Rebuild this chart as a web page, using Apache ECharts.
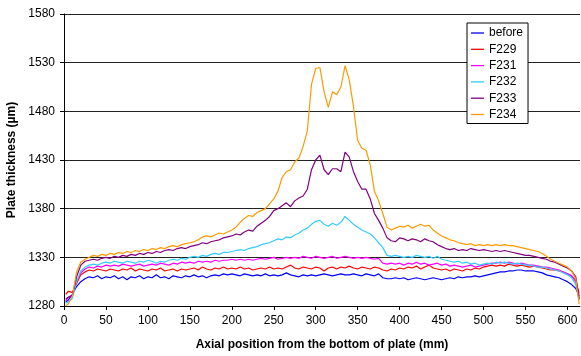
<!DOCTYPE html>
<html>
<head>
<meta charset="utf-8">
<script src="https://cdn.jsdelivr.net/npm/echarts@6/dist/echarts.min.js"></script>
<style>
  html, body { margin: 0; padding: 0; background: #fff; }
  #chart { width: 581px; height: 356px; }
</style>
</head>
<body>
<div id="chart"></div>
<script>
// Axial positions (mm) of the thickness readings
const positions = [2,5,10,15,20,25,30,35,40,45,50,55,60,65,70,75,80,85,90,95,
  100,105,110,115,120,125,130,135,140,145,150,155,160,165,170,175,180,185,190,195,
  200,205,210,215,220,225,230,235,240,245,250,255,260,265,270,275,280,285,290,295,
  300,305,310,315,320,325,330,335,340,345,350,355,360,365,370,375,380,385,390,395,
  400,405,410,415,420,425,430,435,440,445,450,455,460,465,470,475,480,485,490,495,
  500,505,510,515,520,525,530,535,540,545,550,555,560,565,570,575,580,585,590,595,
  600,605,610,614];

const before = [1284,1286,1292,1300,1305,1308,1310,1309,1311,1308,1310,1309,1311,1308,1310,1307,1310,1309,1311,1308,
  1310,1309,1312,1309,1310,1308,1311,1310,1309,1311,1310,1312,1310,1311,1309,1311,1312,1311,1313,1312,
  1313,1312,1311,1313,1312,1311,1312,1311,1313,1311,1312,1311,1312,1314,1312,1311,1310,1312,1311,1312,
  1311,1312,1313,1312,1311,1312,1313,1312,1312,1313,1312,1311,1313,1312,1311,1313,1309,1308,1308,1309,
  1308,1309,1307,1308,1309,1308,1307,1308,1309,1308,1307,1308,1309,1308,1310,1309,1310,1310,1311,1310,
  1311,1312,1313,1314,1315,1315,1316,1316,1317,1317,1316,1316,1316,1315,1314,1312,1311,1310,1309,1307,
  1305,1302,1298,1290];

const f229 = [1292,1295,1294,1303,1312,1315,1317,1316,1318,1317,1316,1318,1317,1316,1318,1317,1319,1316,1318,1317,
  1316,1318,1317,1319,1316,1317,1318,1316,1318,1317,1318,1319,1317,1320,1318,1317,1319,1318,1320,1318,
  1319,1318,1320,1318,1319,1317,1318,1319,1318,1320,1318,1319,1318,1320,1322,1319,1318,1320,1319,1318,
  1320,1319,1316,1319,1320,1318,1320,1319,1321,1319,1318,1320,1319,1318,1320,1319,1317,1316,1318,1317,
  1319,1318,1320,1319,1321,1318,1320,1322,1319,1318,1317,1318,1316,1318,1317,1316,1318,1317,1319,1318,
  1320,1321,1322,1321,1322,1321,1323,1322,1321,1322,1321,1320,1321,1320,1319,1318,1317,1317,1316,1315,
  1313,1311,1306,1293];

const f231 = [1285,1289,1291,1305,1314,1318,1320,1319,1321,1320,1322,1321,1322,1321,1323,1322,1321,1322,1323,1321,
  1322,1323,1322,1324,1323,1322,1324,1323,1325,1324,1325,1324,1326,1325,1326,1325,1327,1326,1327,1327,
  1328,1327,1328,1327,1328,1327,1328,1329,1328,1329,1330,1328,1329,1330,1329,1330,1329,1331,1330,1329,
  1331,1330,1329,1330,1331,1329,1330,1331,1330,1329,1330,1329,1330,1329,1328,1329,1324,1323,1324,1323,
  1324,1322,1324,1323,1325,1323,1324,1322,1323,1324,1322,1323,1321,1322,1321,1320,1321,1322,1320,1321,
  1322,1323,1324,1324,1325,1324,1325,1324,1323,1324,1323,1322,1322,1321,1320,1320,1319,1318,1317,1315,
  1313,1311,1305,1290];

const f232 = [1283,1284,1288,1305,1316,1320,1322,1323,1322,1324,1325,1324,1326,1325,1324,1326,1325,1324,1326,1325,
  1327,1326,1324,1326,1325,1327,1328,1327,1329,1328,1330,1331,1330,1332,1331,1333,1334,1333,1335,1335,
  1336,1337,1338,1337,1339,1340,1341,1343,1344,1345,1347,1349,1348,1351,1350,1353,1355,1358,1360,1364,
  1367,1368,1364,1362,1365,1363,1366,1372,1368,1364,1361,1358,1356,1354,1350,1345,1340,1332,1331,1332,
  1331,1330,1331,1330,1332,1331,1330,1331,1329,1331,1328,1327,1326,1325,1326,1324,1325,1323,1324,1322,
  1323,1324,1323,1325,1324,1325,1324,1323,1324,1323,1322,1322,1321,1320,1320,1319,1318,1317,1316,1314,
  1312,1309,1302,1286];

const f233 = [1287,1289,1291,1310,1322,1326,1327,1328,1327,1329,1330,1329,1331,1330,1332,1331,1333,1332,1334,1333,
  1335,1334,1336,1335,1337,1338,1337,1339,1340,1339,1341,1342,1343,1345,1344,1346,1347,1348,1350,1351,
  1352,1354,1353,1356,1358,1357,1362,1365,1368,1372,1378,1380,1383,1386,1382,1388,1391,1393,1400,1420,
  1430,1435,1420,1415,1421,1421,1418,1438,1433,1418,1408,1400,1400,1390,1375,1368,1360,1350,1347,1346,
  1350,1349,1347,1349,1348,1346,1349,1347,1346,1343,1341,1339,1338,1339,1337,1338,1337,1339,1338,1337,
  1338,1337,1336,1337,1336,1337,1336,1335,1334,1333,1332,1332,1331,1330,1329,1328,1326,1325,1323,1321,
  1319,1316,1310,1287];

const f234 = [1280,1282,1290,1315,1325,1328,1330,1332,1331,1333,1332,1334,1333,1335,1334,1336,1335,1337,1336,1338,
  1337,1339,1338,1340,1339,1341,1342,1341,1343,1344,1345,1346,1348,1351,1352,1351,1353,1355,1354,1356,
  1358,1361,1366,1370,1373,1372,1376,1378,1380,1385,1390,1398,1412,1418,1420,1428,1432,1444,1460,1508,
  1524,1525,1500,1484,1500,1497,1505,1527,1512,1485,1450,1442,1440,1425,1398,1388,1375,1361,1358,1360,
  1362,1361,1363,1360,1362,1364,1362,1363,1358,1355,1352,1350,1348,1347,1345,1344,1343,1344,1342,1343,
  1342,1343,1342,1343,1342,1343,1342,1342,1341,1340,1339,1338,1337,1336,1334,1331,1328,1326,1324,1322,
  1320,1316,1308,1282];

const seriesNames = ['before', 'F229', 'F231', 'F232', 'F233', 'F234'];
const seriesValues = [before, f229, f231, f232, f233, f234];
const seriesColors = ['#0000ff', '#ff0000', '#ff00ff', '#33ccff', '#800080', '#ff9900'];

const chart = echarts.init(document.getElementById('chart'), null, { renderer: 'canvas' });

const font = 'Liberation Sans, Arial, sans-serif';

chart.setOption({
  animation: false,
  backgroundColor: '#ffffff',
  grid: { left: 64, right: 1, top: 14, bottom: 50, containLabel: false, outerBoundsMode: 'none' },
  legend: {
    orient: 'vertical',
    left: 467,
    top: 23,
    padding: [4, 5, 3, 4],
    itemWidth: 13,
    itemHeight: 12,
    itemGap: 4.3,
    icon: 'path://M0,0H13V1.3H0Z',
    backgroundColor: '#ffffff',
    borderColor: '#000000',
    borderWidth: 1,
    borderRadius: 0,
    textStyle: { fontFamily: font, fontSize: 12, color: '#000' },
    data: seriesNames
  },
  xAxis: {
    type: 'value',
    min: 0,
    max: 615,
    interval: 50,
    name: 'Axial position from the bottom of plate (mm)',
    nameLocation: 'middle',
    nameGap: 33,
    nameTextStyle: { fontFamily: font, fontSize: 12, fontWeight: 'bold', color: '#000' },
    axisLine: { show: true, onZero: false, lineStyle: { color: '#000', width: 1 } },
    axisTick: { show: true, length: 4, lineStyle: { color: '#000' } },
    axisLabel: { fontFamily: font, fontSize: 12, color: '#000', margin: 9, showMaxLabel: false },
    splitLine: { show: false }
  },
  yAxis: {
    type: 'value',
    min: 1280,
    max: 1580,
    interval: 50,
    name: 'Plate thickness (µm)',
    nameLocation: 'middle',
    nameGap: 46,
    nameTextStyle: { fontFamily: font, fontSize: 12, fontWeight: 'bold', color: '#000' },
    axisLine: { show: true, lineStyle: { color: '#000', width: 1 } },
    axisTick: { show: true, length: 4, lineStyle: { color: '#000' } },
    axisLabel: { fontFamily: font, fontSize: 12, color: '#000', margin: 9, formatter: v => String(v) },
    splitLine: { show: true, lineStyle: { color: '#222', width: 1 } }
  },
  series: seriesNames.map((name, i) => ({
    name: name,
    type: 'line',
    symbol: 'none',
    smooth: false,
    color: seriesColors[i],
    lineStyle: { width: 1.2, color: seriesColors[i] },
    data: positions.map((x, k) => [x, seriesValues[i][k]])
  }))
});
</script>
</body>
</html>
